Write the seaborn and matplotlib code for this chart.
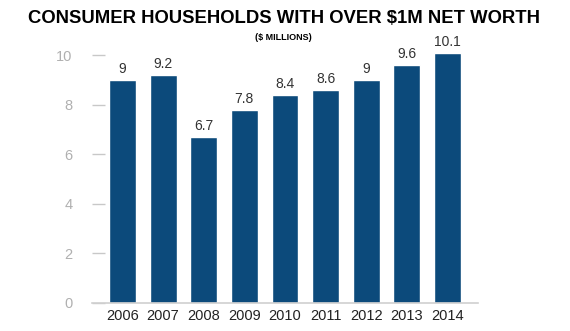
import matplotlib
matplotlib.use("Agg")
import matplotlib.pyplot as plt
import seaborn as sns
import pandas as pd

years = ["2006", "2007", "2008", "2009", "2010", "2011", "2012", "2013", "2014"]
values = [9, 9.2, 6.7, 7.8, 8.4, 8.6, 9, 9.6, 10.1]
value_labels = ["9", "9.2", "6.7", "7.8", "8.4", "8.6", "9", "9.6", "10.1"]
yticks = [0, 2, 4, 6, 8, 10]

df = pd.DataFrame({"year": years, "value": values})

sns.set_style("white")
plt.rcParams['font.family'] = ['Liberation Sans', 'DejaVu Sans']

fig = plt.figure(figsize=(5.7, 3.31), dpi=100)
ax = fig.add_axes([92/570, 1-303/331, 386/570, 260/331])

sns.barplot(data=df, x="year", y="value", color="#0c4a7b", width=0.66,
            saturation=1, ax=ax)
ax.bar_label(ax.containers[0], labels=value_labels, padding=3,
             fontsize=10, color="#333333")

ax.set_xlim(-0.75, 8.75)
ax.set_ylim(0, 10.5)
ax.set_yticks(yticks)
ax.set_yticklabels([str(t) for t in yticks])
ax.set_xlabel("")
ax.set_ylabel("")

for s in ["top", "right", "left"]:
    ax.spines[s].set_visible(False)
ax.spines["bottom"].set_color("#d0d0d0")
ax.spines["bottom"].set_linewidth(1.2)

ax.tick_params(axis="y", direction="in", length=9, width=1, color="#c8c8c8",
               labelcolor="#b0b0b0", labelsize=10.5, pad=14, left=True)
ax.tick_params(axis="x", length=0, labelsize=10.5, labelcolor="#222222", pad=4)

fig.text(0.498, 0.945, "CONSUMER HOUSEHOLDS WITH OVER $1M NET WORTH",
         ha="center", va="center", fontsize=13.3, fontweight="bold",
         family=["Liberation Sans", "DejaVu Sans"], color="black")
fig.text(0.497, 0.888, "($ MILLIONS)", ha="center", va="center",
         fontsize=6.5, fontweight="bold",
         family=["Liberation Sans", "DejaVu Sans"], color="black")

fig.savefig("out.png", dpi=100)
